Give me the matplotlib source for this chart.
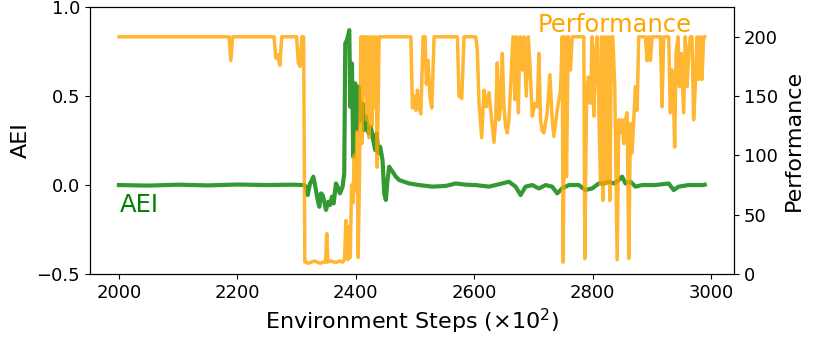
import numpy as np
import matplotlib
matplotlib.use("Agg")
import matplotlib.pyplot as plt

# AEI curve (left axis)
aei_steps = [2000, 2050, 2100, 2150, 2200, 2250, 2290, 2313,
             2316, 2318.8, 2322.8, 2326.1, 2328.4, 2331.7, 2335.7, 2338.5, 2341.3, 2344.1,
             2346.9, 2349.7, 2353.7, 2356.5, 2359.8, 2362.7, 2366.6, 2369.4, 2373.3, 2377.8,
             2380.6, 2382.3, 2385.1, 2387.9, 2389.1, 2390.8, 2393.6, 2395.8, 2399.2, 2402,
             2404.8, 2407.6, 2411.6, 2414.4, 2417.2, 2421.7, 2425.6, 2429.5, 2432.9, 2435.2,
             2438.5, 2441.3, 2445.3, 2448.1, 2450.9, 2453.7, 2456.5, 2462.2, 2467.8, 2473.4,
             2490.2, 2507.1, 2529.6, 2552, 2568.9, 2585.8, 2602.6, 2625.1,
             2647.6, 2658.8, 2670.1, 2678.5, 2686.9, 2698.2, 2709.4, 2720.7, 2731.9, 2740.3,
             2748.8, 2760, 2776.9, 2788.1, 2799.4, 2810.6,
             2819.1, 2827.5, 2836, 2844.4, 2850, 2855.6, 2864.1, 2872.5, 2883.7, 2906.2,
             2928.7, 2937.1, 2945.6, 2962.4, 2973.6, 2987.7, 2989.5]
aei_vals = [0.0, -0.003, 0.002, -0.002, 0.003, 0.0, 0.002, 0.0,
            -0.01, -0.056, 0.009, 0.028, 0.047, -0.009, -0.084, -0.122, -0.047, -0.056,
            -0.094, -0.14, -0.094, -0.112, -0.065, -0.103, 0.009, -0.009, -0.047, -0.009,
            0.066, 0.796, 0.815, 0.852, 0.871, 0.44, 0.684, 0.159, 0.571, 0.309,
            0.552, 0.365, 0.459, 0.309, 0.384, 0.29, 0.328, 0.253, 0.197, 0.29,
            0.178, 0.215, 0.14, -0.047, -0.084, 0.028, 0.103, 0.075, 0.047, 0.028,
            0.009, 0.0, -0.009, -0.005, 0.009, 0.002, 0.0, -0.009,
            0.009, 0.019, -0.009, -0.056, -0.009, 0.0, -0.019, 0.0, -0.009, -0.047,
            -0.019, 0.0, 0.0, -0.028, -0.019, 0.009,
            0.009, 0.019, 0.009, 0.028, 0.047, 0.009, 0.019, -0.009, 0.0, 0.0,
            0.009, -0.028, -0.009, 0.0, 0.0, 0.0, 0.002]

# Performance curve (right axis)
perf_steps = [2000, 2186, 2189, 2192, 2262, 2265, 2268, 2272, 2275, 2300, 2303, 2306, 2309,
              2312, 2314, 2316, 2320, 2325, 2330, 2335, 2340, 2345, 2349, 2351, 2353, 2358,
              2363, 2368, 2373, 2378, 2381,
              2383.4, 2385.1, 2386.8, 2389, 2390.7, 2393, 2395.3, 2397.5, 2399.7, 2402,
              2404.2, 2406.5, 2408.7, 2410.4, 2412.6, 2414.3, 2416, 2418.2, 2420.5, 2422.8,
              2425, 2427.3, 2429.5, 2431.7, 2434, 2436.3, 2439.6,
              2493.1, 2495.8, 2498.6, 2501.5, 2504.2, 2507.1, 2510, 2513.8, 2517.2, 2519.4,
              2522.3, 2525.1, 2528.5, 2532.4, 2571.7, 2574.5, 2579.1, 2583, 2602.7, 2605.4,
              2608.3, 2612.8, 2616.7, 2620.6, 2625.1, 2628, 2633.6, 2636.4, 2639.1, 2642,
              2644.8, 2647.6, 2650.4, 2653.2, 2656, 2658.8, 2661.6, 2665.6, 2668.9, 2671.2,
              2674.6, 2677.4, 2681.3, 2684.1, 2688.1, 2691.4, 2694.2, 2698.2, 2702.7, 2706.6,
              2709.4, 2712.2, 2715, 2717.9, 2723.5, 2728, 2731.9, 2734.7, 2740.3, 2746,
              2748.8, 2750.4, 2753.3, 2756.1, 2758.9, 2762.8, 2765.6, 2785.3, 2787, 2789.8,
              2792.6, 2796.5, 2799.4, 2802.2, 2805, 2807.9, 2810.7, 2813.5, 2815.2, 2817.4,
              2820.8, 2823, 2826.4, 2829.2, 2832, 2834.3, 2837.6, 2841.6, 2844.4, 2847.2,
              2850, 2852.8, 2855.6, 2858.4, 2861.3, 2864.1, 2866.9, 2869.7, 2872.5, 2875.3,
              2878.1, 2889.4, 2892.2, 2895, 2897.8, 2900.6, 2914.7, 2917.5, 2920.3, 2928.7,
              2931.5, 2934.3, 2937.1, 2938.8, 2941.1, 2944.4, 2946.7, 2950, 2954, 2956.8,
              2959.6, 2962.4, 2965.2, 2968, 2970.8, 2973.6, 2976.4, 2979.3, 2982.1, 2984.9,
              2987.7, 2989.5]
perf_vals = [200, 200, 180, 200, 200, 182, 185, 176, 200, 200, 178, 175, 200,
             200, 10, 10, 9, 10, 11, 10, 9, 10, 10, 34, 10, 11,
             10, 10, 11, 10, 12,
             45, 30, 12, 40, 14, 75, 60, 100, 70, 120,
             14, 90, 200, 110, 200, 160, 200, 130, 200, 115,
             200, 125, 200, 140, 200, 90, 200,
             200, 140, 150, 138, 155, 140, 135, 200, 200, 160,
             180, 150, 140, 200, 200, 150, 148, 200, 200, 189,
             144, 115, 155, 141, 153, 138, 111, 130, 178, 130,
             141, 186, 141, 124, 119, 130, 158, 200, 147, 200,
             136, 200, 172, 200, 150, 200, 178, 133, 144, 141,
             186, 130, 121, 119, 136, 168, 130, 116, 138, 155,
             200, 10, 200, 82, 200, 172, 200, 200, 13, 141,
             166, 144, 200, 133, 186, 200, 138, 76, 200, 62,
             200, 76, 200, 62, 200, 200, 158, 12, 130, 119,
             130, 110, 130, 136, 13, 127, 102, 130, 158, 138,
             200, 200, 180, 200, 180, 200, 200, 141, 200, 200,
             136, 172, 141, 107, 186, 200, 158, 186, 136, 200,
             158, 186, 200, 200, 130, 158, 200, 164, 200, 164,
             200, 200]

fig, ax1 = plt.subplots(figsize=(8.15, 3.41), dpi=100)
fig.subplots_adjust(left=0.110, right=0.9006, top=0.979, bottom=0.1965)

ax1.plot(aei_steps, aei_vals, color='green', alpha=0.8, lw=3)
ax1.set_ylim(-0.5, 1.0)
ax1.set_yticks([-0.5, 0.0, 0.5, 1.0])
ax1.set_ylabel('AEI', fontsize=16)
ax1.set_xlabel('Environment Steps ($\\times10^2$)', fontsize=16)
ax1.tick_params(labelsize=13)
ax1.text(2001, -0.152, 'AEI', color='green', fontsize=17.5, ha='left', va='baseline')

ax2 = ax1.twinx()
ax2.plot(perf_steps, perf_vals, color='orange', alpha=0.8, lw=2.5)
ax2.set_ylim(0, 225)
ax2.set_yticks([0, 50, 100, 150, 200])
ax2.set_ylabel('Performance', fontsize=16)
ax2.tick_params(labelsize=13)
ax2.text(2968, 0.86 * 150 + 75, 'Performance', color='orange', fontsize=17.5,
         ha='right', va='baseline')

ax1.set_xlim(1950.5, 3039)
ax1.set_xticks([2000, 2200, 2400, 2600, 2800, 3000])

fig.savefig('out.png', dpi=100)
